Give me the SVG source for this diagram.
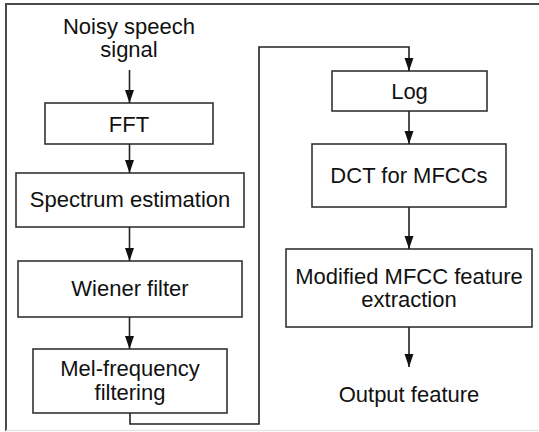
<svg xmlns="http://www.w3.org/2000/svg" width="539" height="432" viewBox="0 0 539 432">
<style>
.box{fill:#fff;stroke:#333;stroke-width:1.6}
.t{font-family:"Liberation Sans",Arial,sans-serif;font-size:22px;fill:#111;text-anchor:middle}
.c{fill:none;stroke:#222;stroke-width:1.6}
.frame{fill:none;stroke:#4a4a4a;stroke-width:2}
</style>
<defs>
<marker id="ah" viewBox="0 -5 13 10" refX="13" refY="0" markerWidth="13" markerHeight="10" markerUnits="userSpaceOnUse" orient="auto">
<path d="M0,-4.5 L13,0 L0,4.5 z" fill="#111"/>
</marker>
</defs>
<rect width="539" height="432" fill="#fff"/>
<path class="frame" d="M6,431 V4 H539"/>
<line x1="6" y1="430.5" x2="539" y2="430.5" stroke="#e6e6e6" stroke-width="1.5"/>

<g id="input"><text class="t" x="129" y="34">Noisy speech</text><text class="t" x="129" y="57">signal</text></g>
<g id="fft"><rect class="box" x="45" y="103" width="168" height="41"/><text class="t" x="129" y="131.5">FFT</text></g>
<g id="spectrum"><rect class="box" x="16" y="173" width="228" height="54"/><text class="t" x="130" y="207">Spectrum estimation</text></g>
<g id="wiener"><rect class="box" x="18" y="261" width="224" height="56"/><text class="t" x="130" y="296">Wiener filter</text></g>
<g id="mel"><rect class="box" x="33" y="349" width="194" height="64"/><text class="t" x="130" y="376">Mel-frequency</text><text class="t" x="130" y="399.5">filtering</text></g>
<g id="log"><rect class="box" x="332" y="71" width="155" height="40"/><text class="t" x="409.5" y="98.5">Log</text></g>
<g id="dct"><rect class="box" x="312" y="144" width="194" height="63"/><text class="t" x="409" y="183">DCT for MFCCs</text></g>
<g id="modified"><rect class="box" x="286" y="249" width="246" height="78"/><text class="t" x="409" y="283.5">Modified MFCC feature</text><text class="t" x="409" y="307">extraction</text></g>
<g id="output"><text class="t" x="409" y="402">Output feature</text></g>

<g id="connectors">
<path class="c" d="M129.5,70 V103" marker-end="url(#ah)"/>
<path class="c" d="M129.5,144 V173" marker-end="url(#ah)"/>
<path class="c" d="M129.5,227 V261" marker-end="url(#ah)"/>
<path class="c" d="M129.5,317 V349" marker-end="url(#ah)"/>
<path class="c" d="M130,413 V424 H259 V47 H409 V71" marker-end="url(#ah)"/>
<path class="c" d="M409,111 V144" marker-end="url(#ah)"/>
<path class="c" d="M409,207 V249" marker-end="url(#ah)"/>
<path class="c" d="M409,327 V367" marker-end="url(#ah)"/>
</g>
</svg>
